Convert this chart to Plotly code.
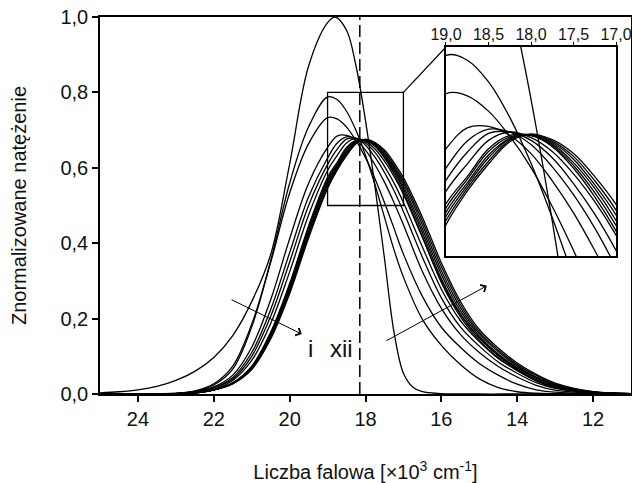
import plotly.graph_objects as go

# ---------------- data ----------------
wavenumber = [25, 24, 23, 22.5, 22, 21.5, 21, 20.5, 20, 19.5, 19, 18.75, 18.5, 18.25, 18,
              17.75, 17.5, 17.25, 17, 16.5, 16, 15.5, 15, 14.5, 14, 13.5, 13, 12, 11]

spec_i = [0, 0, 0.001, 0.007, 0.024, 0.066, 0.178, 0.354, 0.559, 0.709, 0.788, 0.781, 0.750, 0.699, 0.633,
          0.555, 0.469, 0.383, 0.310, 0.198, 0.129, 0.078, 0.040, 0.017, 0.006, 0.002, 0.001, 0, 0]
spec_ii = [0, 0, 0.002, 0.008, 0.027, 0.074, 0.185, 0.349, 0.533, 0.664, 0.733, 0.730, 0.708, 0.672, 0.627,
           0.571, 0.508, 0.440, 0.371, 0.259, 0.177, 0.124, 0.081, 0.050, 0.026, 0.011, 0.005, 0.001, 0]
spec_iii = [0, 0, 0.001, 0.006, 0.019, 0.050, 0.124, 0.250, 0.412, 0.559, 0.654, 0.684, 0.686, 0.673, 0.647,
            0.608, 0.562, 0.508, 0.449, 0.325, 0.227, 0.158, 0.110, 0.073, 0.045, 0.023, 0.010, 0.002, 0]
spec_iv = [0, 0, 0.001, 0.006, 0.017, 0.044, 0.110, 0.224, 0.375, 0.523, 0.626, 0.665, 0.682, 0.678, 0.660,
           0.628, 0.588, 0.540, 0.484, 0.363, 0.255, 0.178, 0.127, 0.085, 0.055, 0.030, 0.015, 0.003, 0]
spec_v = [0, 0, 0.001, 0.005, 0.016, 0.040, 0.100, 0.206, 0.350, 0.500, 0.609, 0.649, 0.676, 0.678, 0.666,
          0.641, 0.604, 0.560, 0.508, 0.390, 0.278, 0.195, 0.139, 0.094, 0.063, 0.036, 0.018, 0.004, 0]
spec_vi = [0, 0, 0.001, 0.005, 0.013, 0.036, 0.089, 0.187, 0.324, 0.475, 0.593, 0.632, 0.666, 0.678, 0.670,
           0.650, 0.618, 0.578, 0.530, 0.415, 0.299, 0.211, 0.149, 0.103, 0.069, 0.043, 0.022, 0.005, 0.001]
spec_vii = [0, 0, 0.001, 0.003, 0.011, 0.030, 0.074, 0.164, 0.293, 0.446, 0.575, 0.614, 0.654, 0.673, 0.673,
            0.657, 0.626, 0.585, 0.536, 0.418, 0.296, 0.205, 0.143, 0.096, 0.062, 0.035, 0.017, 0.004, 0.001]
spec_viii = [0, 0, 0.001, 0.003, 0.011, 0.029, 0.072, 0.160, 0.288, 0.440, 0.569, 0.610, 0.650, 0.671, 0.673,
             0.659, 0.630, 0.591, 0.544, 0.428, 0.306, 0.213, 0.149, 0.101, 0.066, 0.038, 0.019, 0.004, 0.001]
spec_ix = [0, 0, 0.001, 0.003, 0.011, 0.029, 0.070, 0.157, 0.282, 0.433, 0.563, 0.605, 0.645, 0.669, 0.674,
           0.661, 0.634, 0.597, 0.551, 0.438, 0.317, 0.221, 0.154, 0.106, 0.070, 0.042, 0.022, 0.005, 0.001]
spec_x = [0, 0, 0.001, 0.003, 0.011, 0.028, 0.069, 0.153, 0.277, 0.427, 0.557, 0.601, 0.641, 0.668, 0.674,
          0.663, 0.639, 0.602, 0.559, 0.449, 0.327, 0.230, 0.160, 0.112, 0.074, 0.045, 0.024, 0.005, 0.001]
spec_xi = [0, 0, 0.001, 0.003, 0.011, 0.028, 0.067, 0.150, 0.271, 0.420, 0.551, 0.597, 0.636, 0.666, 0.675,
           0.665, 0.643, 0.608, 0.566, 0.459, 0.338, 0.238, 0.165, 0.117, 0.078, 0.049, 0.026, 0.006, 0.001]
spec_xii = [0, 0, 0.001, 0.003, 0.011, 0.027, 0.065, 0.146, 0.266, 0.414, 0.545, 0.593, 0.632, 0.664, 0.675,
            0.667, 0.647, 0.614, 0.574, 0.469, 0.348, 0.246, 0.171, 0.122, 0.082, 0.052, 0.029, 0.006, 0.001]

ref_wavenumber = [25, 24.5, 24, 23.5, 23, 22.5, 22, 21.5, 21, 20.5, 20, 19.5, 19, 18.8, 18.5, 18.25, 18,
                  17.75, 17.5, 17.25, 17, 16.75, 16.5, 16, 15, 14, 13, 12, 11]
ref_spec = [0.003, 0.006, 0.011, 0.020, 0.036, 0.060, 0.097, 0.155, 0.245, 0.370, 0.610, 0.870, 0.985, 1.0,
            0.965, 0.870, 0.725, 0.550, 0.360, 0.165, 0.055, 0.018, 0.006, 0.001, 0, 0, 0, 0, 0]

series = [spec_i, spec_ii, spec_iii, spec_iv, spec_v, spec_vi,
          spec_vii, spec_viii, spec_ix, spec_x, spec_xi, spec_xii]

dashed_position = 18.15
zoom_x = [19, 17]
zoom_y = [0.5, 0.8]
x_ticks = [24, 22, 20, 18, 16, 14, 12]
y_ticks = [0.0, 0.2, 0.4, 0.6, 0.8, 1.0]
inset_ticks = [19.0, 18.5, 18.0, 17.5, 17.0]

# ---------------- layout constants ----------------
W, H = 632, 483
ML, MR, MT, MB = 100, 1, 17, 89
X_RANGE = [25, 11]
Y_RANGE = [0, 1.0]
INSET_DX = [0.6516, 0.9718]
INSET_DY = [0.366, 0.9204]
FONT = "Liberation Sans, Arial, sans-serif"
LINE = dict(color="black", width=1.3)

fig = go.Figure()

for ys in series:
    fig.add_trace(go.Scatter(x=wavenumber, y=ys, mode="lines", line=dict(shape="spline", **LINE),
                             showlegend=False, hoverinfo="skip"))
fig.add_trace(go.Scatter(x=ref_wavenumber, y=ref_spec, mode="lines", line=dict(shape="spline", **LINE),
                         showlegend=False, hoverinfo="skip"))

# inset copies
for ys in series:
    fig.add_trace(go.Scatter(x=wavenumber, y=ys, mode="lines", line=dict(shape="spline", **LINE),
                             xaxis="x2", yaxis="y2", showlegend=False, hoverinfo="skip"))
fig.add_trace(go.Scatter(x=ref_wavenumber, y=ref_spec, mode="lines", line=dict(shape="spline", **LINE),
                         xaxis="x2", yaxis="y2", showlegend=False, hoverinfo="skip"))

axis_common = dict(showline=True, linecolor="black", linewidth=1.5, mirror=True, showgrid=False,
                   zeroline=False, ticks="outside", tickcolor="black", tickwidth=1.5, automargin=False,
                   tickfont=dict(family=FONT, size=20, color="#111"))

fig.update_layout(
    width=W, height=H, margin=dict(l=ML, r=MR, t=MT, b=MB, autoexpand=False),
    paper_bgcolor="white", plot_bgcolor="white", separators=",.",
    font=dict(family=FONT, color="#111"),
    xaxis=dict(range=X_RANGE, domain=[0, 1], tickvals=x_ticks, ticklen=6,
               title=dict(text="Liczba falowa [×10<sup>3</sup> cm<sup>-1</sup>]",
                          font=dict(family=FONT, size=20, color="#111"), standoff=39),
               **axis_common),
    yaxis=dict(range=Y_RANGE, domain=[0, 1], tickvals=y_ticks, tickformat=".1f", ticklen=6,
               title=dict(text="Znormalizowane natężenie",
                          font=dict(family=FONT, size=20, color="#111"), standoff=28),
               **axis_common),
    xaxis2=dict(range=zoom_x, domain=INSET_DX, anchor="y2", side="top", tickvals=inset_ticks,
                tickformat=".1f", ticklen=3, showline=True, linecolor="black", linewidth=1.5,
                mirror=True, showgrid=False, zeroline=False, ticks="outside", tickcolor="black",
                tickwidth=1.2, automargin=False, ticklabelstandoff=-4,
                tickfont=dict(family=FONT, size=16, color="#111")),
    yaxis2=dict(range=zoom_y, domain=INSET_DY, anchor="x2", showticklabels=False, ticks="",
                showline=True, linecolor="black", linewidth=1.5, mirror=True, automargin=False,
                showgrid=False, zeroline=False),
)

# dashed vertical marker
fig.add_shape(type="line", xref="x", yref="y", x0=dashed_position, x1=dashed_position,
              y0=Y_RANGE[0], y1=Y_RANGE[1], line=dict(color="black", width=1.5, dash="12px,5px"))
# zoom rectangle
fig.add_shape(type="rect", xref="x", yref="y", x0=zoom_x[0], x1=zoom_x[1], y0=zoom_y[0], y1=zoom_y[1],
              line=dict(color="black", width=1.3))
# connector from rectangle corner to inset corner
px0 = (X_RANGE[0] - zoom_x[1]) / (X_RANGE[0] - X_RANGE[1])
py0 = (zoom_y[1] - Y_RANGE[0]) / (Y_RANGE[1] - Y_RANGE[0])
fig.add_shape(type="line", xref="paper", yref="paper", x0=px0, y0=py0, x1=INSET_DX[0], y1=INSET_DY[1],
              line=dict(color="black", width=1.2))

# arrows
fig.add_annotation(x=19.68, y=0.159, ax=21.57, ay=0.252, xref="x", yref="y", axref="x", ayref="y",
                   showarrow=True, arrowhead=4, arrowsize=1.6, arrowwidth=1, arrowcolor="black", text="")
fig.add_annotation(x=14.80, y=0.287, ax=17.49, ay=0.139, xref="x", yref="y", axref="x", ayref="y",
                   showarrow=True, arrowhead=4, arrowsize=1.6, arrowwidth=1, arrowcolor="black", text="")
fig.add_annotation(x=19.44, y=0.12, text="i", showarrow=False, xref="x", yref="y",
                   font=dict(family=FONT, size=24, color="#111"))
fig.add_annotation(x=18.62, y=0.12, text="xii", showarrow=False, xref="x", yref="y",
                   font=dict(family=FONT, size=24, color="#111"))

fig.write_html("out.html")
